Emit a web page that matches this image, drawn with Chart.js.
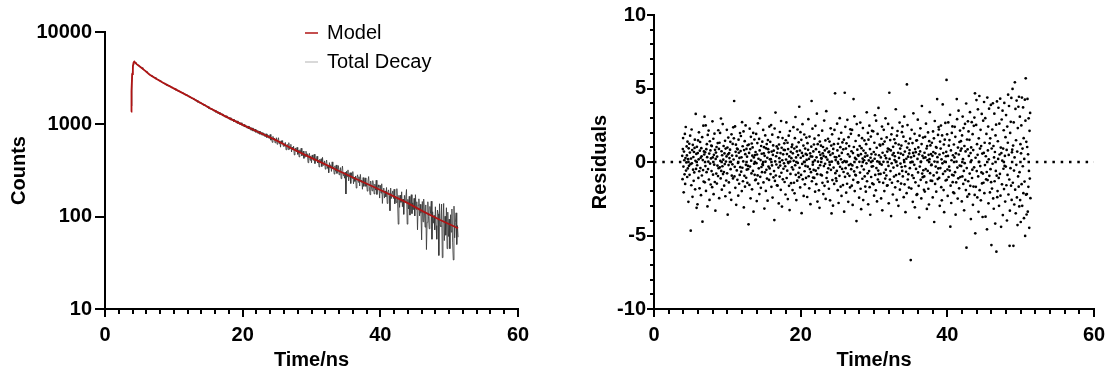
<!DOCTYPE html>
<html>
<head>
<meta charset="utf-8">
<script src="https://cdn.jsdelivr.net/npm/chart.js@4.4.0/dist/chart.umd.min.js"></script>
<style>
html, body { margin: 0; padding: 0; background: #fff; }
#decay { position: absolute; left: 0; top: 0; }
#resid { position: absolute; left: 557px; top: 0; }
</style>
</head>
<body>
<canvas id="decay" width="557" height="374"></canvas>
<canvas id="resid" width="558" height="374"></canvas>
<script>
// model fit
var modelTimes = [3.78,3.85,3.95,4.05,4.15,4.26,4.4,4.6,5.1,5.8,6.5,7.5,8.5,10.4,12.5,15.2,17.5,20.1,22.5,24.9,27.2,29.5,31.7,34,36.5,39,41.5,44,46.2,48.7,51.3];
var modelCounts = [1370,2300,3500,4250,4650,4770,4650,4480,4200,3820,3450,3100,2800,2360,1950,1500,1220,980,810,670,545,450,378,312,256,211,172,140,114,92,75];

// total decay, one value per 0.1 ns channel starting at 3.8 ns
var decayStart = 3.8, decayStep = 0.1;
var decayCounts = [
  1580,2870,3950,4410,4780,4720,4690,4530,4510,4390,
  4410,4280,4300,4150,4190,4030,4120,3960,3950,3830,
  3870,3720,3760,3610,3650,3590,3460,3490,3380,3420,
  3300,3360,3230,3270,3160,3230,3090,3140,3020,3080,
  3050,2940,2990,2880,2930,2820,2870,2770,2810,2720,
  2680,2740,2630,2690,2580,2640,2540,2600,2490,2550,
  2520,2430,2470,2380,2440,2340,2390,2300,2350,2260,
  2310,2220,2270,2180,2230,2140,2190,2100,2150,2060,
  2110,2030,2080,1990,2040,1950,2000,1910,1960,1880,
  1930,1840,1890,1800,1860,1770,1820,1730,1790,1700,
  1750,1680,1720,1640,1690,1600,1660,1580,1620,1550,
  1590,1510,1560,1480,1530,1450,1500,1430,1470,1400,
  1450,1380,1430,1350,1400,1320,1380,1300,1350,1280,
  1330,1260,1300,1230,1280,1210,1260,1190,1240,1170,
  1220,1150,1200,1130,1180,1110,1160,1090,1140,1070,
  1130,1060,1100,1030,1090,1020,1070,1000,1050,985,
  1040,975,1010,950,1000,935,985,920,965,905,
  960,890,945,870,930,860,915,845,900,835,
  890,820,870,805,860,795,845,780,835,770,
  825,760,810,745,795,735,790,720,775,712,
  763,704,777,674,717,638,741,687,711,630,
  661,716,608,668,716,618,659,566,665,627,
  667,578,619,579,637,529,590,607,533,633,
  536,573,608,502,566,531,580,466,534,555,
  502,563,473,523,443,530,493,551,456,472,
  513,428,478,444,512,452,480,384,463,486,
  408,455,383,466,429,406,475,376,424,405,
  451,382,409,345,419,381,424,349,439,360,
  369,402,327,379,410,333,359,299,385,337,
  365,309,392,328,341,289,355,310,363,294,
  329,357,284,307,340,258,317,353,279,300,
  261,303,176,311,271,321,244,280,299,229,
  299,260,308,227,268,241,276,204,268,284,
  236,271,215,287,237,249,198,265,213,236,
  263,213,232,189,242,272,211,173,243,212,
  190,246,216,176,225,194,248,174,202,221,
  207,159,219,180,227,139,188,204,159,190,
  164,207,139,185,195,169,116,204,157,181,
  190,157,198,138,167,142,201,151,83,170,
  126,171,143,186,128,155,106,170,143,163,
  197,83,154,121,166,104,140,173,108,141,
  119,158,102,173,120,145,72,133,156,102,
  136,109,56,146,88,155,115,77,134,44,
  87,145,100,74,129,108,147,57,113,85,
  103,72,128,80,57,118,107,38,138,80,
  78,137,36,83,139,55,101,63,125,45,
  112,61,94,45,105,68,121,53,34,130,
  59,86,110,50,80,60
];

// weighted residuals, one value per 0.04 ns channel starting at 3.85 ns
var residStart = 3.85, residStep = 0.04;
var residuals = [
  0.42,-1.17,0.88,1.63,-0.31,-2.06,0.71,0.12,-0.84,1.91,-1.49,0.27,2.38,-0.58,-0.03,1.06,0.45,-1.02,1.38,-0.44,0.19,-2.71,0.93,-0.26,1.24,
  -0.87,0.64,1.79,-0.15,-4.67,0.23,-1.58,2.21,-0.09,0.81,-2.37,1.17,-0.52,0.34,-1.28,0.68,-0.71,0.96,1.52,-1.86,0.08,3.27,-0.47,0.55,-3.12,
  1.03,-0.22,-2.88,0.61,1.47,-1.08,0.18,2.02,-0.63,-1.79,0.77,1.36,-0.41,0.29,-2.26,0.94,0.39,-0.92,1.69,-4.06,0.13,-0.55,2.47,-1.33,0.72,
  0.51,3.08,-1.38,0.66,-0.28,2.49,-1.97,0.87,-0.69,1.21,0.33,-3.02,1.84,-0.48,0.02,2.14,-1.19,0.57,-2.58,1.41,-0.11,0.79,-1.53,0.24,1.12,
  -0.62,1.08,-1.71,2.77,0.31,-0.86,1.58,-2.19,0.49,-0.18,1.93,-1.36,0.83,-3.31,0.21,0.64,-0.79,1.02,-1.47,0.37,-0.24,1.29,-0.96,2.16,-0.42,
  0.89,-2.46,1.31,-0.37,1.98,0.07,-1.12,2.96,-0.61,0.73,-1.88,0.46,-0.29,2.58,-0.82,0.16,1.09,-0.68,-1.61,0.58,-0.14,1.44,-2.33,0.91,0.03,
  -1.26,0.38,2.19,-0.77,0.98,-3.58,0.52,1.66,-0.21,-1.39,0.61,0.27,-2.08,0.84,1.37,-0.49,0.01,-2.57,1.88,-0.93,0.44,-0.16,1.23,-1.12,2.36,
  0.17,1.61,4.15,-0.98,-0.33,2.42,-1.76,0.69,1.18,-2.91,0.41,-0.57,0.92,-1.21,0.86,-0.06,-2.29,1.52,0.63,-1.48,0.28,-0.88,1.97,-0.35,0.74,
  1.77,-0.66,0.32,-1.98,2.71,-0.39,1.07,-1.31,0.04,2.08,-3.09,0.81,-0.94,1.42,-1.68,0.53,2.49,-0.19,-1.07,0.89,-0.52,0.36,-1.42,1.14,-0.27,
  -0.48,-4.24,1.19,0.62,-1.56,2.27,-0.31,0.88,-2.47,1.71,0.09,-0.78,1.26,-1.86,0.43,0.99,-0.61,1.98,-3.38,0.31,-0.12,1.53,-0.87,0.47,-1.24,
  0.68,-1.19,1.91,-0.08,-2.66,0.51,1.29,-0.91,2.63,-1.47,0.22,-0.43,1.57,-2.18,0.79,2.98,-1.01,0.13,-1.76,1.09,-0.34,0.56,-0.69,1.38,-0.15,
  -0.21,2.18,-1.39,0.58,1.01,-3.17,0.42,-0.71,1.81,0.02,-1.97,0.93,-0.53,1.22,-1.13,0.29,-2.63,1.49,0.87,-0.31,0.66,-1.22,2.41,-0.44,0.18,
  1.37,-0.82,0.19,2.51,-1.69,0.71,-0.23,1.86,-2.42,0.48,1.13,-1.04,0.77,-0.62,-3.95,2.28,-1.29,0.04,3.36,-0.92,0.39,-0.17,1.06,-1.58,0.63,
  -1.61,0.91,1.68,-0.38,-2.82,1.19,0.26,-0.99,2.04,-0.24,0.61,-1.89,2.79,-0.73,0.97,-3.03,0.12,1.63,-1.18,0.52,-0.46,0.83,-0.09,1.27,-1.36,
  0.81,-0.29,-2.21,1.48,0.17,2.69,-1.09,0.54,-0.59,1.31,-2.52,0.88,-0.07,1.79,-1.62,0.38,-3.27,2.11,0.03,-0.81,0.69,-1.44,0.26,1.02,-0.36,
  1.18,-1.91,0.59,-0.51,2.37,0.08,-1.41,0.92,-2.13,1.62,-0.22,3.06,-0.87,0.31,-2.59,1.03,0.72,-1.27,2.21,-0.06,0.47,-0.74,1.34,-1.03,3.76,
  -0.39,0.78,-1.73,2.03,0.29,-0.88,1.51,-3.48,0.62,-0.13,2.57,-1.18,0.41,1.12,-2.31,0.01,1.87,-0.63,-1.52,0.91,-0.27,0.55,-1.08,1.66,0.14,
  0.49,-2.38,1.28,-0.32,0.83,2.91,-0.97,0.21,-1.79,1.73,-0.48,0.59,-2.87,0.38,-0.69,1.04,4.15,-1.31,0.37,2.27,-0.18,-1.06,0.72,-0.54,1.19,
  -1.08,1.59,0.11,-2.02,2.46,-0.59,0.87,-1.51,0.32,3.29,-0.83,-2.69,1.21,0.02,-0.41,1.82,-1.93,0.68,-3.12,1.39,-0.22,0.49,-0.86,1.11,0.26,
  0.23,-0.91,2.13,-1.42,0.59,1.02,-2.18,0.41,-0.28,2.82,-1.62,0.79,-0.12,1.47,-2.51,0.33,3.46,-1.09,0.92,-0.71,0.16,-1.34,1.58,-0.43,0.67,
  -1.82,0.71,1.39,-0.19,-2.61,0.48,2.29,-0.53,1.12,-3.50,0.02,1.88,-1.23,0.58,-2.97,0.89,-0.38,1.21,-1.49,2.18,0.34,4.67,-0.76,0.13,-1.11,
  0.32,-1.29,-0.61,2.61,0.79,-1.92,1.24,-0.11,-2.79,1.58,0.41,-0.94,2.98,-0.33,1.01,-1.68,0.18,1.99,-2.31,0.62,-0.47,1.33,-0.02,-1.57,0.86,
  -0.68,1.52,-3.38,0.06,4.71,-1.01,2.39,-0.42,0.91,-2.09,1.27,0.03,-1.48,2.87,-0.79,0.52,-2.71,1.69,-0.21,1.08,-0.94,0.37,-1.73,2.22,-0.15,
  1.92,-0.49,0.73,-1.61,2.18,-0.23,-2.92,0.61,-1.21,4.28,1.02,-0.64,3.11,-1.98,0.28,-0.87,1.43,-0.91,0.19,-4.02,2.58,-0.36,0.84,-1.39,0.47,
  -1.38,0.42,1.81,-2.43,0.01,1.09,-0.72,2.68,-1.82,0.53,-3.21,0.94,-0.28,1.62,-1.14,0.23,2.31,-2.59,0.78,-0.51,0.12,1.47,-0.98,0.36,-1.67,
  0.61,-2.02,1.21,-0.09,3.38,-1.31,0.43,-0.77,1.98,-2.88,1.52,0.11,-0.62,2.47,-1.71,0.88,-3.59,0.29,1.73,-1.02,0.54,-0.31,2.12,-1.46,0.07,
  -0.29,2.09,-1.52,0.68,-2.29,1.31,0.22,3.18,-0.88,0.51,-1.93,2.81,-0.41,0.97,-2.68,0.04,1.91,-1.19,-0.58,3.68,-0.82,0.46,-1.36,1.18,-0.12,
  1.12,-0.81,0.31,-2.48,1.58,-0.18,2.41,-3.29,0.63,1.21,-1.42,0.01,2.19,-0.73,-1.98,1.39,0.44,-1.13,2.97,-0.52,0.26,-0.92,1.67,-1.61,0.71,
  -1.58,0.92,2.59,-0.27,-2.81,0.86,4.71,0.21,-1.19,1.49,-0.62,0.79,-3.68,1.88,-0.09,-1.41,2.32,0.48,-2.21,1.03,-0.38,0.61,-0.99,1.54,0.13,
  0.39,-1.72,1.28,3.59,-0.89,0.02,-2.58,1.79,-0.24,2.11,-1.31,0.63,-2.98,1.19,0.28,-0.81,2.68,-1.88,0.91,-0.11,0.57,-1.47,1.12,-0.34,2.03,
  -0.61,2.42,-0.98,0.49,1.72,-2.39,0.13,3.08,-1.52,0.71,-0.29,-3.41,1.41,-0.67,0.22,-2.12,5.28,0.98,2.51,-1.19,0.36,-0.83,1.26,-1.74,0.58,
  0.81,-0.42,1.59,-0.03,-6.67,0.32,-1.81,2.19,0.01,-0.91,1.29,-2.71,0.62,3.31,-1.09,0.41,-0.19,1.92,-3.08,0.88,-1.38,0.67,-0.47,1.46,-2.24,
  1.48,-2.19,0.21,2.88,-0.71,0.99,-1.62,0.52,-3.78,1.79,-0.31,0.72,2.29,-1.21,0.03,-2.48,1.22,3.81,-0.79,0.42,-1.03,1.66,-0.56,0.28,-1.89,
  -0.98,0.63,-2.01,1.71,0.31,-0.48,2.61,-1.39,0.92,-3.19,1.08,0.12,-0.61,2.01,-1.82,0.49,-2.89,1.42,0.19,3.39,-0.76,1.13,-1.27,0.54,-0.22,
  -0.18,1.31,-1.29,0.42,-2.41,2.08,0.68,-0.91,1.61,-4.08,0.03,2.79,-1.49,0.59,-0.31,1.02,-2.02,0.97,-0.72,4.28,0.33,-1.16,1.84,-0.44,2.38,
  2.21,-1.08,0.51,-2.98,1.39,-0.41,0.91,2.48,-1.71,0.18,-2.61,1.81,-0.09,3.92,-0.81,0.61,-1.91,1.19,-3.41,0.02,1.52,-0.63,2.66,-1.26,0.39,
  0.69,5.58,-1.21,1.88,-0.51,-2.31,0.41,2.69,-1.02,1.11,-0.32,1.49,-0.58,3.21,-4.40,-1.61,0.79,-2.79,0.12,1.98,-0.87,2.42,-1.37,0.46,-2.06,
  -0.91,1.19,-2.12,0.31,2.39,-0.69,1.71,-3.58,0.59,-1.39,0.02,4.28,2.91,-0.38,-2.49,0.98,-1.11,3.49,0.51,-1.79,1.36,-0.24,2.14,-1.02,0.77,
  1.42,-0.28,0.91,-2.68,1.81,-0.98,3.09,0.19,-1.49,2.31,-0.61,-3.29,1.09,-0.08,2.59,-1.22,0.72,-1.91,3.98,-5.83,-0.41,1.53,-2.36,0.86,2.77,
  -1.31,2.08,0.41,-2.19,1.51,-0.79,3.39,-1.62,0.61,-3.88,0.99,0.11,2.71,-1.09,-0.52,1.89,-2.91,0.81,-1.67,2.46,-0.36,3.02,-2.24,4.67,-4.85,
  0.29,-1.69,2.52,4.21,-0.62,1.21,-2.41,0.49,3.58,-0.98,-3.39,1.61,0.01,4.49,-1.92,0.91,-0.28,2.19,-2.61,1.08,-0.71,3.27,-1.46,0.57,-3.74,
  -0.79,2.81,-1.41,0.62,4.08,-2.12,1.31,-0.21,2.98,-3.72,0.39,-1.18,1.91,-0.68,-4.58,4.38,-1.23,0.79,2.41,-2.81,0.18,3.63,-0.94,1.27,-2.07,
  1.61,-0.49,3.88,-1.37,-5.65,0.92,-1.81,2.21,-0.12,3.99,-2.48,1.09,-3.18,0.31,3.29,-1.31,0.68,-4.19,1.81,-0.61,2.54,-6.10,-0.93,4.12,-2.39,
  -1.98,1.41,0.21,3.69,-1.08,-2.98,2.61,0.51,-0.81,4.31,-2.29,0.98,-4.41,0.61,2.89,-1.52,0.09,3.49,-3.61,0.91,-0.46,2.16,-1.84,4.02,-0.27,
  0.41,-2.69,1.69,-0.31,3.19,-1.58,0.82,-3.98,2.41,-0.88,1.31,4.58,-2.21,0.48,3.81,-1.19,-5.70,-3.31,1.98,-0.42,2.73,-1.61,4.36,-2.58,0.66,
  0.84,4.97,-1.41,1.12,-5.70,2.69,-0.58,-2.89,0.31,5.42,-1.88,3.61,-3.49,1.48,-0.19,4.18,-2.41,0.71,-4.29,2.31,-0.98,3.76,-1.68,4.44,-3.02,
  -0.69,3.08,-2.59,1.21,-4.08,0.59,2.49,-1.51,4.38,-2.98,0.91,-0.29,3.71,-2.12,1.62,-3.82,0.21,-1.33,4.24,-5.03,2.81,5.69,-2.22,1.37,-3.57,
  -2.18,1.02,4.29,-3.38,0.52,-1.69,2.97,-0.61,-4.48,2.12,-1.13,3.34,-2.46
];

// axis ticks
var timeTicks = [0, 20, 40, 60];
var timeMinorTicks = [2,4,6,8,10,12,14,16,18,22,24,26,28,30,32,34,36,38,42,44,46,48,50,52,54,56,58];
var countTicks = [10, 100, 1000, 10000];
var residTicks = [-10, -5, 0, 5, 10];
var residMinorTicks = [-9,-8,-7,-6,-4,-3,-2,-1,1,2,3,4,6,7,8,9];
var zeroLine = [0, 0];

var legendItems = [
  {label: 'Model', color: '#b01414'},
  {label: 'Total Decay', color: '#cccccc'}
];

Chart.defaults.font.family = "'Liberation Sans', Arial, Helvetica, sans-serif";
Chart.defaults.color = '#000';
Chart.defaults.animation = false;

var boldFont = {size: 20, weight: 'bold'};

function axisGrid(len) {
  return {drawOnChartArea: false, drawTicks: true, tickLength: len, tickWidth: 2,
          tickColor: '#000', color: '#000', lineWidth: 2};
}

// small ticks between the labelled ones
var minorTicks = {
  id: 'minorTicks',
  afterDraw: function(chart, args, opts) {
    var ctx = chart.ctx, a = chart.chartArea;
    ctx.save();
    ctx.strokeStyle = '#000';
    ctx.lineWidth = 2;
    (opts.x || []).forEach(function(v) {
      var px = Math.round(chart.scales.x.getPixelForValue(v));
      ctx.beginPath(); ctx.moveTo(px, a.bottom); ctx.lineTo(px, a.bottom + 5); ctx.stroke();
    });
    (opts.y || []).forEach(function(v) {
      var py = Math.round(chart.scales.y.getPixelForValue(v));
      ctx.beginPath(); ctx.moveTo(a.left, py); ctx.lineTo(a.left - 4, py); ctx.stroke();
    });
    ctx.restore();
  }
};

var decayLegend = {
  id: 'decayLegend',
  afterDraw: function(chart) {
    var ctx = chart.ctx, a = chart.chartArea;
    ctx.save();
    ctx.font = "20px 'Liberation Sans', Arial, sans-serif";
    ctx.textBaseline = 'middle';
    legendItems.forEach(function(item, i) {
      var x = a.left + 200, y = a.top + 1 + i * 29;
      ctx.strokeStyle = item.color;
      ctx.lineWidth = 1.5;
      ctx.beginPath(); ctx.moveTo(x, y); ctx.lineTo(x + 13, y); ctx.stroke();
      ctx.fillStyle = '#000';
      ctx.fillText(item.label, x + 22, y);
    });
    ctx.restore();
  }
};

var modelPts = modelTimes.map(function(t, i) { return {x: t, y: modelCounts[i]}; });
var decayPts = decayCounts.map(function(c, i) { return {x: decayStart + i * decayStep, y: c}; });
var residPts = residuals.map(function(r, i) { return {x: residStart + i * residStep, y: r}; });
var zeroPts = [timeTicks[0], timeTicks[timeTicks.length - 1]]
  .map(function(t, i) { return {x: t, y: zeroLine[i]}; });

new Chart(document.getElementById('decay'), {
  type: 'line',
  data: {
    datasets: [
      {label: 'Model', data: modelPts, borderColor: legendItems[0].color, borderWidth: 1.8,
       pointRadius: 0, tension: 0},
      {label: 'Total Decay', data: decayPts, borderColor: '#333333', borderWidth: 0.8,
       pointRadius: 0, tension: 0}
    ]
  },
  options: {
    responsive: false,
    devicePixelRatio: 1,
    layout: {padding: {top: 32, right: 39, left: 0, bottom: 0}},
    plugins: {legend: {display: false}, tooltip: {enabled: false},
              minorTicks: {x: timeMinorTicks}},
    scales: {
      x: {
        type: 'linear', min: 0, max: 60,
        afterBuildTicks: function(s) { s.ticks = timeTicks.map(function(v) { return {value: v}; }); },
        ticks: {font: boldFont, padding: 6, maxRotation: 0, callback: function(v) { return String(v); }},
        grid: axisGrid(8),
        border: {color: '#000', width: 2},
        title: {display: true, text: 'Time/ns', font: boldFont, padding: {top: 0, bottom: 2}},
        afterFit: function(s) { s.height = 65; }
      },
      y: {
        type: 'logarithmic', min: 10, max: 10000,
        afterBuildTicks: function(s) { s.ticks = countTicks.map(function(v) { return {value: v}; }); },
        ticks: {font: boldFont, padding: 3, callback: function(v) { return String(v); }},
        grid: axisGrid(10),
        border: {color: '#000', width: 2},
        title: {display: true, text: 'Counts', font: boldFont, padding: {top: 7, bottom: 0}},
        afterFit: function(s) { s.width = 105; }
      }
    }
  },
  plugins: [minorTicks, decayLegend]
});

new Chart(document.getElementById('resid'), {
  type: 'scatter',
  data: {
    datasets: [
      {label: 'Residuals', data: residPts, backgroundColor: '#000', borderWidth: 0,
       pointRadius: 1.35},
      {label: 'zero', type: 'line', data: zeroPts, borderColor: '#000', borderWidth: 2.5,
       borderDash: [2.5, 5.8], borderCapStyle: 'butt', pointRadius: 0}
    ]
  },
  options: {
    responsive: false,
    devicePixelRatio: 1,
    layout: {padding: {top: 15, right: 21, left: 0, bottom: 0}},
    plugins: {legend: {display: false}, tooltip: {enabled: false},
              minorTicks: {x: timeMinorTicks, y: residMinorTicks}},
    scales: {
      x: {
        type: 'linear', min: 0, max: 60,
        afterBuildTicks: function(s) { s.ticks = timeTicks.map(function(v) { return {value: v}; }); },
        ticks: {font: boldFont, padding: 6, maxRotation: 0},
        grid: axisGrid(8),
        border: {color: '#000', width: 2},
        title: {display: true, text: 'Time/ns', font: boldFont, padding: {top: 0, bottom: 2}},
        afterFit: function(s) { s.height = 65; }
      },
      y: {
        type: 'linear', min: -10, max: 10,
        afterBuildTicks: function(s) { s.ticks = residTicks.map(function(v) { return {value: v}; }); },
        ticks: {font: boldFont, padding: 1},
        grid: axisGrid(7),
        border: {color: '#000', width: 2},
        title: {display: true, text: 'Residuals', font: boldFont, padding: {top: 31, bottom: 0}},
        afterFit: function(s) { s.width = 97; }
      }
    }
  },
  plugins: [minorTicks]
});
</script>
</body>
</html>
